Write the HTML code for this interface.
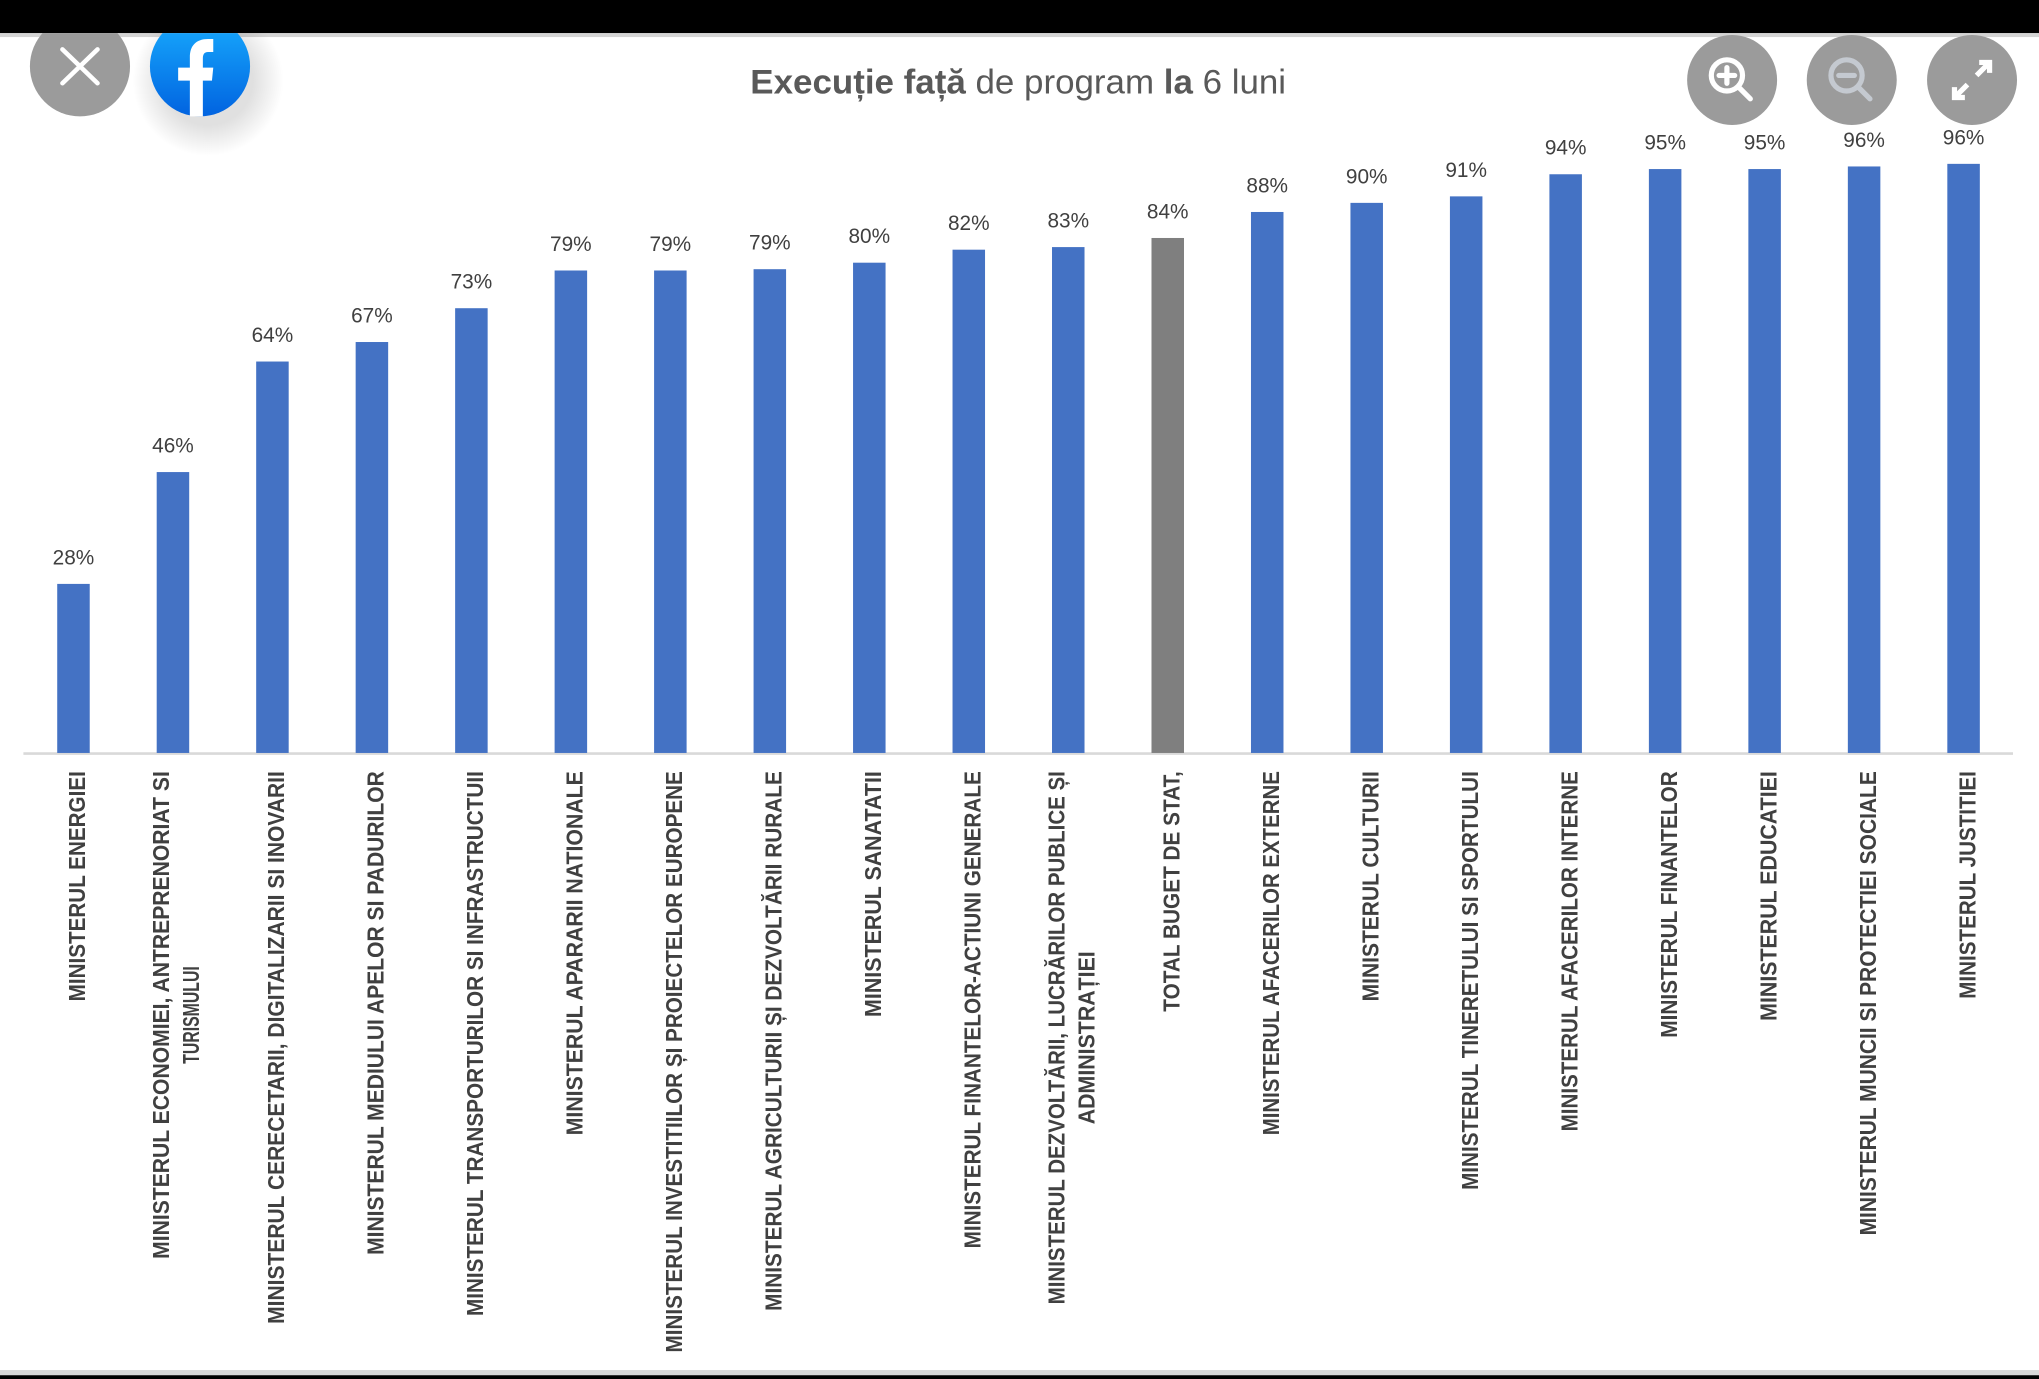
<!DOCTYPE html>
<html><head><meta charset="utf-8"><style>
html,body{margin:0;padding:0;background:#fff;}
svg{display:block;}
</style></head><body>
<svg width="2039" height="1379" viewBox="0 0 1568 1060.4" preserveAspectRatio="none" xmlns="http://www.w3.org/2000/svg" font-family="'Liberation Sans', sans-serif">
<rect x="0" y="0" width="1568" height="1061" fill="#fff"/>
<text x="783" y="72" text-anchor="middle" font-size="26" fill="#595959" textLength="412" lengthAdjust="spacingAndGlyphs"><tspan font-weight="bold">Execuție față</tspan> de program <tspan font-weight="bold">la</tspan> 6 luni</text>
<line x1="18" y1="579.5" x2="1548" y2="579.5" stroke="#d9d9d9" stroke-width="2"/>
<g id="bars" font-size="16" fill="#404040" text-anchor="middle"></g>
<g id="labels" font-size="18" font-weight="bold" fill="#404040" text-anchor="end"></g>
<rect x="0" y="0" width="1568" height="25.5" fill="#000"/>
<rect x="0" y="25.5" width="1568" height="3" fill="#d4d4d4"/>
<rect x="0" y="1053.5" width="1568" height="4" fill="#d8d8d8"/>
<rect x="0" y="1057.5" width="1568" height="4" fill="#000"/>
<defs>
<linearGradient id="fb" x1="0" y1="0" x2="0" y2="1"><stop offset="0" stop-color="#18acfe"/><stop offset="1" stop-color="#0163e0"/></linearGradient>
<radialGradient id="sh"><stop offset="0.6" stop-color="#000" stop-opacity="0.12"/><stop offset="1" stop-color="#000" stop-opacity="0"/></radialGradient>
<clipPath id="cp"><rect x="0" y="25.5" width="1568" height="200"/></clipPath>
</defs>
<g clip-path="url(#cp)">
<circle cx="160" cy="62" r="58" fill="url(#sh)"/>
<circle cx="61.5" cy="51" r="38.5" fill="#9b9b9b"/>
<path d="M48 38 L75 64 M75 38 L48 64" stroke="#fff" stroke-width="3.5" stroke-linecap="round"/>
<circle cx="153.8" cy="51" r="38.5" fill="url(#fb)"/>
<path d="M146 89.5 V62 H137 V52 H146 V44 C146 35 151 30 160 30 H164 V40 H160 C157 40 156 42 156 45 V52 H164 L163 62 H156 V89.5 Z" fill="#fff"/>
</g>
<circle cx="1332" cy="61.5" r="34.6" fill="#9b9b9b"/>
<circle cx="1328" cy="58" r="12" fill="none" stroke="#fff" stroke-width="4"/>
<path d="M1337 67 L1346 76 M1322 58 H1334 M1328 52 V64" stroke="#fff" stroke-width="4" stroke-linecap="round"/>
<circle cx="1424" cy="61.5" r="34.6" fill="#9b9b9b"/>
<circle cx="1420" cy="58" r="12" fill="none" stroke="#c4c9d0" stroke-width="4"/>
<path d="M1429 67 L1438 76 M1414 58 H1426" stroke="#c4c9d0" stroke-width="4" stroke-linecap="round"/>
<circle cx="1516.5" cy="61.5" r="34.6" fill="#9b9b9b"/>
<path d="M1520 58 L1530 48 M1522 48 H1530 V56 M1513 65 L1503 75 M1503 67 V75 H1511" stroke="#fff" stroke-width="4" fill="none"/>
<script>
(function(){
var ns="http://www.w3.org/2000/svg";
var vals=[28,46,64,67,73,79,79,79,80,82,83,84,88,90,91,94,95,95,96,96];
var tops=[449,363,278,263,237,208,208,207,202,192,190,183,163,156,151,134,130,130,128,126];
var labs=[
["MINISTERUL ENERGIEI",770],
["MINISTERUL ECONOMIEI, ANTREPRENORIAT SI",968,"TURISMULUI",75],
["MINISTERUL CERECETARII, DIGITALIZARII SI INOVARII",1018],
["MINISTERUL MEDIULUI  APELOR SI PADURILOR",965],
["MINISTERUL TRANSPORTURILOR SI INFRASTRUCTUII",1012],
["MINISTERUL APARARII NATIONALE",873],
["MINISTERUL INVESTITIILOR ȘI PROIECTELOR  EUROPENE",1040],
["MINISTERUL AGRICULTURII ȘI DEZVOLTĂRII RURALE",1008],
["MINISTERUL SANATATII",782],
["MINISTERUL FINANTELOR-ACTIUNI GENERALE",960],
["MINISTERUL DEZVOLTĂRII, LUCRĂRILOR PUBLICE ȘI",1003,"ADMINISTRAȚIEI",133],
["TOTAL BUGET DE STAT,",778],
["MINISTERUL AFACERILOR EXTERNE",873],
["MINISTERUL CULTURII",770],
["MINISTERUL TINERETULUI SI SPORTULUI",915],
["MINISTERUL AFACERILOR INTERNE",870],
["MINISTERUL FINANTELOR",798],
["MINISTERUL EDUCATIEI",785],
["MINISTERUL MUNCII SI PROTECTIEI SOCIALE",950],
["MINISTERUL JUSTITIEI",768]];
var gb=document.getElementById("bars"),gl=document.getElementById("labels");
function txt(g,x,y,s,len,rot){var t=document.createElementNS(ns,"text");
 if(rot){t.setAttribute("transform","translate("+x+","+y+") rotate(-90)");}
 else{t.setAttribute("x",x);t.setAttribute("y",y);}
 if(len){t.setAttribute("textLength",len);t.setAttribute("lengthAdjust","spacingAndGlyphs");}
 t.textContent=s;g.appendChild(t);return t;}
for(var i=0;i<20;i++){
 var c=56.5+i*76.5;
 var r=document.createElementNS(ns,"rect");
 r.setAttribute("x",c-12.5);r.setAttribute("y",tops[i]);r.setAttribute("width",25);r.setAttribute("height",579-tops[i]);
 r.setAttribute("fill",i==11?"#7f7f7f":"#4472c4");gb.appendChild(r);
 txt(gb,c,tops[i]-15,vals[i]+"%",null,false);
 var L=labs[i],len=L[1]-593;
 if(L[2]){
  txt(gl,c-3,593,L[0],len,true);
  var l2=L[3];
  txt(gl,c+20,593+len/2-l2/2,L[2],l2,true);
 } else txt(gl,c+9,593,L[0],len,true);
}
})();
</script>
</svg>
</body></html>
